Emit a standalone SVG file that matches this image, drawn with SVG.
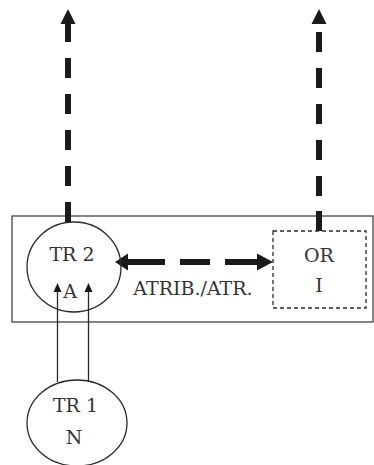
<svg xmlns="http://www.w3.org/2000/svg" width="374" height="465" viewBox="0 0 374 465">
<style>
  .lbl { font-family: "DejaVu Serif", "Liberation Serif", serif; font-size: 19px; fill: #333; text-anchor: middle; }
  .thin { fill: none; stroke: #2a2a2a; stroke-width: 1.3; }
  .thick { fill: none; stroke: #1a1a1a; stroke-width: 6; }
  .head { fill: #1a1a1a; stroke: none; }
</style>
<rect width="374" height="465" fill="#ffffff"/>
<g id="frame">
  <rect x="12" y="216" width="361" height="106" fill="none" stroke="#444" stroke-width="1.3"/>
</g>
<g id="connectors">
  <g id="up-left">
    <path class="thick" d="M68 23 V42 M68 58 V78 M68 94 V114 M68 130 V150 M68 166 V186 M68 202 V222"/>
    <polygon class="head" points="68,9 75.5,24 60.5,24"/>
  </g>
  <g id="up-right">
    <path class="thick" d="M319 32 V52 M319 68 V88 M319 104 V124 M319 140 V160 M319 176 V196 M319 211 V231"/>
    <polygon class="head" points="319,9 326.5,24 311.5,24"/>
  </g>
  <g id="atrib">
    <path class="thick" d="M126 262 H165 M180 262 H210 M225 262 H258"/>
    <polygon class="head" points="115,262 128,253.5 128,270.5"/>
    <polygon class="head" points="273,262 257,253.5 257,270.5"/>
  </g>
  <g id="tr1-tr2">
    <path class="thin" d="M57.5 382 V290 M88.5 382 V290"/>
    <polygon class="head" points="57.5,283 61.5,292 53.5,292"/>
    <polygon class="head" points="88.5,283 92.5,292 84.5,292"/>
  </g>
</g>
<g id="tr2">
  <ellipse class="thin" cx="74" cy="267" rx="47" ry="45"/>
  <text class="lbl" x="72" y="261">TR 2</text>
  <text class="lbl" x="70" y="298">A</text>
</g>
<g id="or">
  <rect x="273" y="231" width="93" height="77" fill="none" stroke="#2a2a2a" stroke-width="1.3" stroke-dasharray="4 3"/>
  <text class="lbl" x="319" y="262">OR</text>
  <text class="lbl" x="319" y="292">I</text>
</g>
<g id="tr1">
  <ellipse class="thin" cx="77" cy="423" rx="50" ry="43"/>
  <text class="lbl" x="75.5" y="412">TR 1</text>
  <text class="lbl" x="74" y="444">N</text>
</g>
<text class="lbl" x="193" y="295">ATRIB./ATR.</text>
</svg>
